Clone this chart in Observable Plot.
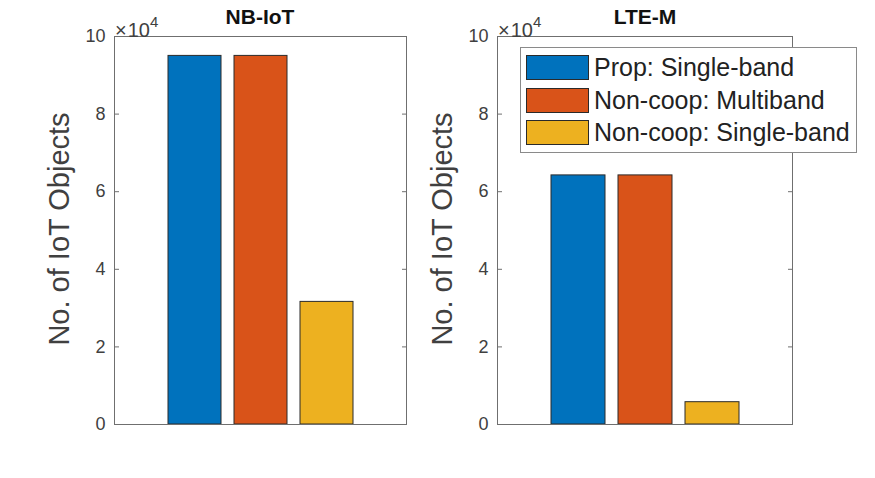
<!DOCTYPE html>
<html>
<head>
<meta charset="utf-8">
<script src="https://cdn.jsdelivr.net/npm/d3@7"></script>
<script src="https://cdn.jsdelivr.net/npm/@observablehq/plot@0.6"></script>
<style>
  html, body { margin: 0; padding: 0; background: #fff; }
  #fig { position: relative; width: 875px; height: 478px; background: #fff; overflow: hidden;
         font-family: "Liberation Sans", Arial, Helvetica, sans-serif; color: #404040; }
  #fig svg { position: absolute; top: 0; background: transparent; }
  .ttl { position: absolute; font-weight: bold; font-size: 21px; color: #111; transform: translateX(-50%); white-space: nowrap; }
  .exp { position: absolute; font-size: 20px; line-height: 20px; color: #404040; white-space: nowrap; }
  .exp .x { font-weight: 300; margin-right: 1px; }
  .exp sup { font-size: 15px; position: relative; top: -2px; }
  .ylab { position: absolute; font-size: 29px; color: #404040; white-space: nowrap;
          transform: translate(-50%, -50%) rotate(-90deg); }
  .legend { position: absolute; left: 520px; top: 47px; width: 337px; height: 106px;
            border: 1px solid #8a8a8a; background: #fff; box-sizing: border-box; }
  .legend .row { position: absolute; left: 5px; height: 25px; display: flex; align-items: center; }
  .legend .sw { width: 63px; height: 25px; border: 1px solid #2a2a2a; box-sizing: border-box; margin-right: 5px; }
  .legend .lbl { font-size: 25px; color: #222; white-space: nowrap; }
</style>
</head>
<body>
<div id="fig"></div>
<script>
// Panels (technologies) and bar series
const panels = ["NB-IoT", "LTE-M"];
const seriesNames = ["Prop: Single-band", "Non-coop: Multiband", "Non-coop: Single-band"];
const seriesColors = ["#0072BD", "#D95319", "#EDB120"];

// Number of IoT objects served, per series
const nbiotValues = [95000, 95000, 31600];
const ltemValues = [64200, 64200, 5750];

// Y axis ticks (raw values; labels are shown in units of 10^4)
const yTicks = [0, 20000, 40000, 60000, 80000, 100000];

const fig = document.getElementById("fig");
const axisColor = "#6f6f6f";
const textColor = "#404040";

function panel(values, {width, marginLeft, marginRight}) {
  const rows = seriesNames.map((s, i) => ({series: s, value: values[i]}));
  return Plot.plot({
    width, height: 478,
    marginLeft, marginRight, marginTop: 36, marginBottom: 54,
    style: {background: "transparent", fontFamily: "Liberation Sans, Arial, sans-serif", color: textColor},
    x: {type: "band", domain: seriesNames, paddingInner: 0.2, paddingOuter: 0.8, axis: null},
    y: {domain: [0, 100000], axis: null},
    color: {domain: seriesNames, range: seriesColors},
    marks: [
      Plot.barY(rows, {x: "series", y: "value", fill: "series", stroke: "#2b2b2b", strokeWidth: 1}),
      Plot.frame({stroke: axisColor, strokeWidth: 1}),
      Plot.axisY({anchor: "left", ticks: yTicks, tickSize: -5, tickPadding: 14, label: null,
                  tickFormat: d => d / 1e4, fontSize: 18, stroke: axisColor, fill: textColor}),
      Plot.axisY({anchor: "right", ticks: yTicks, tickSize: -5, tickFormat: () => "", label: null,
                  stroke: axisColor})
    ]
  });
}

const left = panel(nbiotValues, {width: 440, marginLeft: 114, marginRight: 34});
left.style.left = "0px";
fig.appendChild(left);

const right = panel(ltemValues, {width: 435, marginLeft: 57, marginRight: 83});
right.style.left = "440px";
fig.appendChild(right);

// Titles, exponent notes and y labels
function addDiv(cls, html, x, y) {
  const d = document.createElement("div");
  d.className = cls;
  d.innerHTML = html;
  d.style.left = x + "px";
  d.style.top = y + "px";
  fig.appendChild(d);
  return d;
}
addDiv("ttl", panels[0], 260, 5);
addDiv("ttl", panels[1], 645, 5);
addDiv("exp", "<span class='x'>×</span>10<sup>4</sup>", 115, 14);
addDiv("exp", "<span class='x'>×</span>10<sup>4</sup>", 498, 14);
addDiv("ylab", "No. of IoT Objects", 59, 229);
addDiv("ylab", "No. of IoT Objects", 442, 229);

// Legend
const legend = document.createElement("div");
legend.className = "legend";
seriesNames.forEach((s, i) => {
  const row = document.createElement("div");
  row.className = "row";
  row.style.top = (7 + i * 32.7) + "px";
  const sw = document.createElement("div");
  sw.className = "sw";
  sw.style.background = seriesColors[i];
  const lb = document.createElement("span");
  lb.className = "lbl";
  lb.textContent = s;
  row.appendChild(sw);
  row.appendChild(lb);
  legend.appendChild(row);
});
fig.appendChild(legend);
</script>
</body>
</html>
